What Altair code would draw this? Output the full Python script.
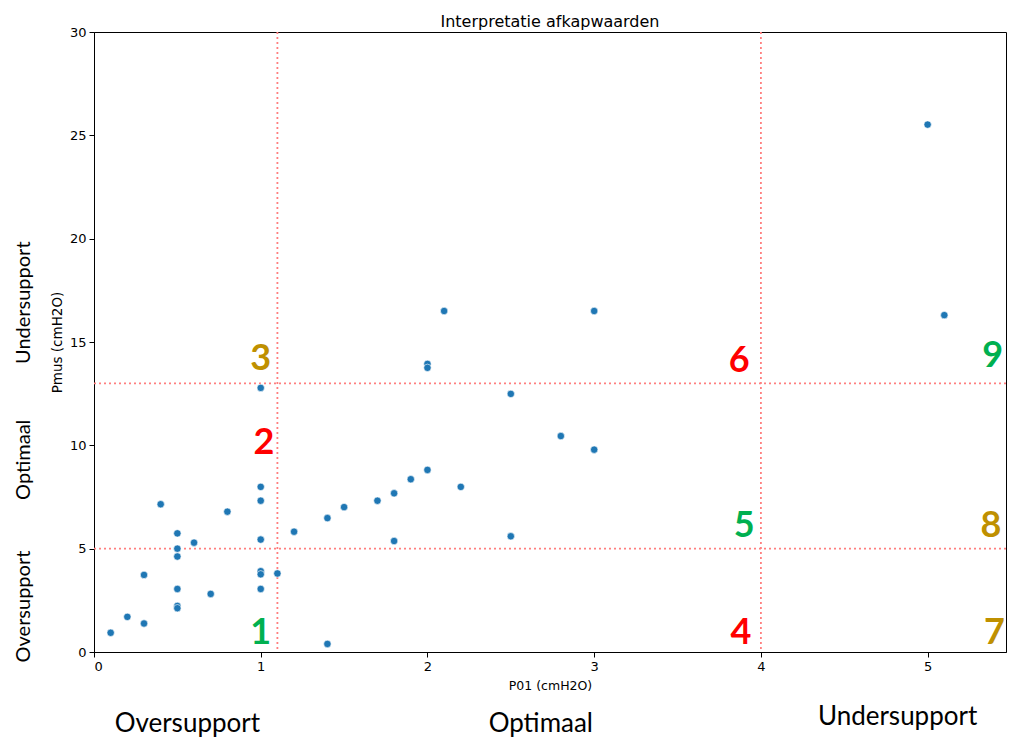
import altair as alt
import pandas as pd

# scatter data
p01 = [0.1, 0.2, 0.3, 0.3, 0.4, 0.5, 0.5, 0.5, 0.5, 0.5, 0.5, 0.6, 0.7, 0.8,
       1.0, 1.0, 1.0, 1.0, 1.0, 1.0, 1.0, 1.1, 1.2, 1.4, 1.4, 1.5, 1.7, 1.8,
       1.8, 1.9, 2.0, 2.0, 2.0, 2.1, 2.2, 2.5, 2.5, 2.8, 3.0, 3.0, 5.0, 5.1]
pmus = [0.93, 1.70, 1.38, 3.73, 7.15, 5.74, 5.0, 4.62, 3.05, 2.23, 2.12, 5.29, 2.81, 6.79,
        12.78, 7.99, 7.32, 5.44, 3.91, 3.76, 3.05, 3.80, 5.82, 6.48, 0.39, 7.01, 7.32, 7.68,
        5.37, 8.36, 8.81, 13.94, 13.75, 16.5, 7.99, 12.49, 5.60, 10.45, 16.5, 9.79, 25.52, 16.3]

# cutoffs
x_cuts = [1.1, 4.0]
y_cuts = [5.0, 13.0]

# zone numbers
zone_labels = ["1", "2", "3", "4", "5", "6", "7", "8", "9"]
zone_x = [1.0, 1.02, 1.0, 3.88, 3.9, 3.87, 5.4, 5.38, 5.39]
zone_y = [0.9, 10.1, 14.2, 0.9, 6.1, 14.1, 0.9, 6.1, 14.3]
zone_col = ["#00B050", "#FF0000", "#BF9000", "#FF0000", "#00B050", "#FF0000",
            "#BF9000", "#BF9000", "#00B050"]

# side labels
left_text = ["Undersupport", "Optimaal", "Oversupport"]
left_x = [-0.42, -0.42, -0.42]
left_y = [16.9, 9.3, 2.2]
bottom_text = ["Oversupport", "Optimaal", "Undersupport"]
bottom_x = [0.56, 2.68, 4.82]
bottom_y = [-3.5, -3.5, -3.15]

XD = [0, 5.47]
YD = [0, 30]

xs = alt.Scale(domain=XD, nice=False, zero=False)
ys = alt.Scale(domain=YD, nice=False, zero=False)

pts_df = pd.DataFrame({"x": p01, "y": pmus})
points = alt.Chart(pts_df).mark_circle(
    size=55, color="#1f77b4", opacity=1, stroke="white", strokeWidth=0.6
).encode(
    x=alt.X("x:Q", scale=xs, title="P01 (cmH2O)",
            axis=alt.Axis(values=[0, 1, 2, 3, 4, 5], format="d", titleFontSize=12.5)),
    y=alt.Y("y:Q", scale=ys, title="Pmus (cmH2O)",
            axis=alt.Axis(values=[0, 5, 10, 15, 20, 25, 30], format="d", titleFontSize=13.5)),
)

vr = alt.Chart(pd.DataFrame({"x": x_cuts})).mark_rule(
    color="#FF7F7F", strokeDash=[2, 3], strokeWidth=1.8
).encode(x=alt.X("x:Q", scale=xs))
hr = alt.Chart(pd.DataFrame({"y": y_cuts})).mark_rule(
    color="#FF7F7F", strokeDash=[2, 3], strokeWidth=1.8
).encode(y=alt.Y("y:Q", scale=ys))

zones = alt.Chart(pd.DataFrame({"x": zone_x, "y": zone_y, "t": zone_labels, "c": zone_col})).mark_text(
    font="Lato", fontSize=36, fontWeight="bold", align="center", baseline="middle"
).encode(x=alt.X("x:Q", scale=xs), y=alt.Y("y:Q", scale=ys), text="t:N",
         color=alt.Color("c:N", scale=None))

left = alt.Chart(pd.DataFrame({"x": left_x, "y": left_y, "t": left_text})).mark_text(
    font="Lato", fontSize=20, angle=270, align="center", baseline="middle", color="black", clip=False
).encode(x=alt.X("x:Q", scale=xs), y=alt.Y("y:Q", scale=ys), text="t:N")

bottom = alt.Chart(pd.DataFrame({"x": bottom_x, "y": bottom_y, "t": bottom_text})).mark_text(
    font="Lato", fontSize=26, align="center", baseline="middle", color="black", clip=False
).encode(x=alt.X("x:Q", scale=xs), y=alt.Y("y:Q", scale=ys), text="t:N")

chart = alt.layer(vr, hr, points, zones, left, bottom).properties(
    width=912, height=620,
    title=alt.TitleParams("Interpretatie afkapwaarden", font="DejaVu Sans", fontSize=16,
                          fontWeight="normal", color="black", anchor="middle", offset=-4,
                          frame="group"),
    autosize=alt.AutoSizeParams(type="none"),
    padding={"left": 86, "top": 24, "right": 10, "bottom": 88},
).configure_view(
    stroke="black", strokeWidth=1
).configure_axis(
    grid=False, domainColor="black", domainWidth=1, tickColor="black", tickSize=5,
    labelFont="DejaVu Sans", labelFontSize=13, labelColor="black",
    titleFont="DejaVu Sans", titleFontSize=13, titleFontWeight="normal", titleColor="black",
).configure_axisX(labelPadding=3, titlePadding=6
).configure_axisY(labelPadding=3, titlePadding=5)

chart.save("out.html", embed_options={"renderer": "svg", "actions": False})
